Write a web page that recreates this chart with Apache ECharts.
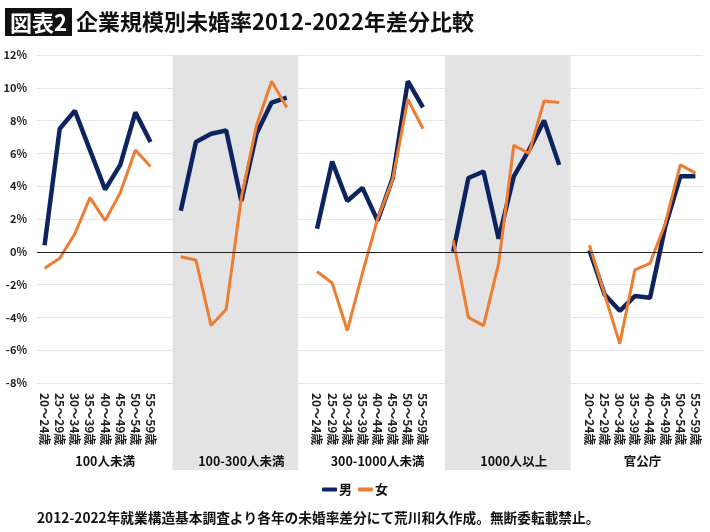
<!DOCTYPE html>
<html>
<head>
<meta charset="utf-8">
<script src="https://cdn.jsdelivr.net/npm/echarts@6/dist/echarts.min.js"></script>
<style>html,body{margin:0;padding:0;background:#fff;}#c{width:710px;height:532px;}</style>
</head>
<body>
<div id="c"></div>
<script>
const ages = ['20～24歳','25～29歳','30～34歳','35～39歳','40～44歳','45～49歳','50～54歳','55～59歳'];
const groups = ['100人未満','100-300人未満','300-1000人未満','1000人以上','官公庁'];
const yTicks = [-8, 12, 2];
// 男 (percentage points)
const male_u100     = [0.4, 7.5, 8.6, 6.2, 3.8, 5.3, 8.5, 6.7];
const male_100_300  = [2.5, 6.7, 7.2, 7.4, 3.1, 7.2, 9.1, 9.4];
const male_300_1000 = [1.4, 5.5, 3.1, 3.9, 1.9, 4.5, 10.4, 8.8];
const male_1000     = [0.0, 4.5, 4.9, 0.8, 4.6, 6.2, 8.0, 5.3];
const male_gov      = [0.1, -2.6, -3.6, -2.7, -2.8, 1.5, 4.6, 4.6];
// 女
const female_u100     = [-1.0, -0.4, 1.1, 3.3, 1.9, 3.6, 6.2, 5.2];
const female_100_300  = [-0.3, -0.5, -4.5, -3.5, 3.3, 7.7, 10.4, 8.8];
const female_300_1000 = [-1.2, -1.9, -4.8, -1.3, 2.0, 4.4, 9.3, 7.5];
const female_1000     = [0.7, -4.0, -4.5, -0.7, 6.5, 6.0, 9.2, 9.1];
const female_gov      = [0.4, -2.6, -5.6, -1.1, -0.7, 1.7, 5.3, 4.8];

const maleGroups = [male_u100, male_100_300, male_300_1000, male_1000, male_gov];
const femaleGroups = [female_u100, female_100_300, female_300_1000, female_1000, female_gov];

function flatten(arrs){
  const out = [];
  arrs.forEach((a,i)=>{ a.forEach(v=>out.push(v)); if(i<arrs.length-1) out.push(null); });
  return out;
}
const cats = [];
groups.forEach((g,i)=>{ ages.forEach(a=>cats.push(a)); if(i<groups.length-1) cats.push(''); });
const N = cats.length;
const per = ages.length + 1;

const FONT = 'Noto Sans CJK JP';
const bandAreas = [];
const labelAreas = [];
groups.forEach((g,i)=>{
  if(i%2===1) bandAreas.push([{xAxis: per*i-0.55}, {xAxis: per*i+ages.length-0.25}]);
  const end = (i<groups.length-1) ? per*i+ages.length+0.5 : N-0.5;
  labelAreas.push([{name: g, xAxis: per*i-0.5}, {xAxis: end}]);
});

const chart = echarts.init(document.getElementById('c'));
chart.setOption({
  backgroundColor: '#fff',
  textStyle: {fontFamily: FONT},
  animation: false,
  title: [{
    text: '{box|図表2} {main|企業規模別未婚率2012-2022年差分比較}',
    left: 0, top: 3,
    textStyle: {rich: {
      box: {backgroundColor: '#111', color: '#fff', fontSize: 22, fontWeight: 'bold', padding: [4,5,2,5], fontFamily: FONT},
      main: {fontSize: 22, color: '#111', fontWeight: 'bold', fontFamily: FONT}
    }}
  },{
    text: '2012-2022年就業構造基本調査より各年の未婚率差分にて荒川和久作成。無断委転載禁止。',
    left: 32, top: 506,
    textStyle: {fontSize: 13.7, fontWeight: 'bold', color: '#111', fontFamily: FONT}
  }],
  legend: {
    data: ['男','女'], top: 478, left: 'center',
    icon: 'roundRect', itemWidth: 15, itemHeight: 4, itemGap: 6,
    textStyle: {fontSize: 13, fontWeight: 'bold', color: '#111', fontFamily: FONT, padding: [0,0,0,-3]}
  },
  grid: [
    {left: 37, right: 7, top: 55, height: 328},
    {left: 37, right: 7, top: 383, height: 87}
  ],
  xAxis: [
    {type: 'category', gridIndex: 0, data: cats, boundaryGap: true,
     axisLine: {show: false}, axisTick: {show: false},
     axisLabel: {interval: 0, rotate: -90, margin: 10, fontSize: 12, fontWeight: 'bold', color: '#222', fontFamily: FONT}},
    {type: 'value', gridIndex: 0, min: -0.5, max: N-0.5, show: false},
    {type: 'value', gridIndex: 1, min: -0.5, max: N-0.5, show: false}
  ],
  yAxis: [
    {type: 'value', gridIndex: 0, min: yTicks[0], max: yTicks[1], interval: yTicks[2],
     axisLine: {show: false}, axisTick: {show: false},
     axisLabel: {formatter: '{value}%', fontSize: 11, fontWeight: 'bold', color: '#222', margin: 10},
     splitLine: {lineStyle: {color: '#e6e6e6', width: 1}}},
    {type: 'value', gridIndex: 1, min: 0, max: 1, show: false}
  ],
  series: [
    {type: 'line', name: 'band', xAxisIndex: 1, yAxisIndex: 0, data: [], z: -1, silent: true,
     markArea: {silent: true, itemStyle: {color: '#e3e3e3'}, data: bandAreas},
     markLine: {silent: true, symbol: 'none', label: {show: false}, lineStyle: {color: '#222', width: 1.2, type: 'solid'},
       data: [{yAxis: 0}]}},
    {type: 'line', name: 'band2', xAxisIndex: 2, yAxisIndex: 1, data: [], silent: true,
     markArea: {silent: true, itemStyle: {color: '#e3e3e3'}, data: bandAreas}},
    {type: 'line', name: 'labels', xAxisIndex: 2, yAxisIndex: 1, data: [], silent: true,
     markArea: {silent: true, itemStyle: {color: 'rgba(0,0,0,0)'},
       label: {show: true, position: 'insideBottom', distance: 2, fontSize: 12.5, fontWeight: 'bold', color: '#111', fontFamily: FONT},
       data: labelAreas}},
    {type: 'line', name: '男', xAxisIndex: 0, yAxisIndex: 0, data: flatten(maleGroups),
     connectNulls: false, showSymbol: false, symbol: 'none', z: 3,
     lineStyle: {color: '#0d2461', width: 4.5}, itemStyle: {color: '#0d2461'}},
    {type: 'line', name: '女', xAxisIndex: 0, yAxisIndex: 0, data: flatten(femaleGroups),
     connectNulls: false, showSymbol: false, symbol: 'none', z: 4,
     lineStyle: {color: '#ed7d31', width: 3}, itemStyle: {color: '#ed7d31'}}
  ]
});
</script>
</body>
</html>
